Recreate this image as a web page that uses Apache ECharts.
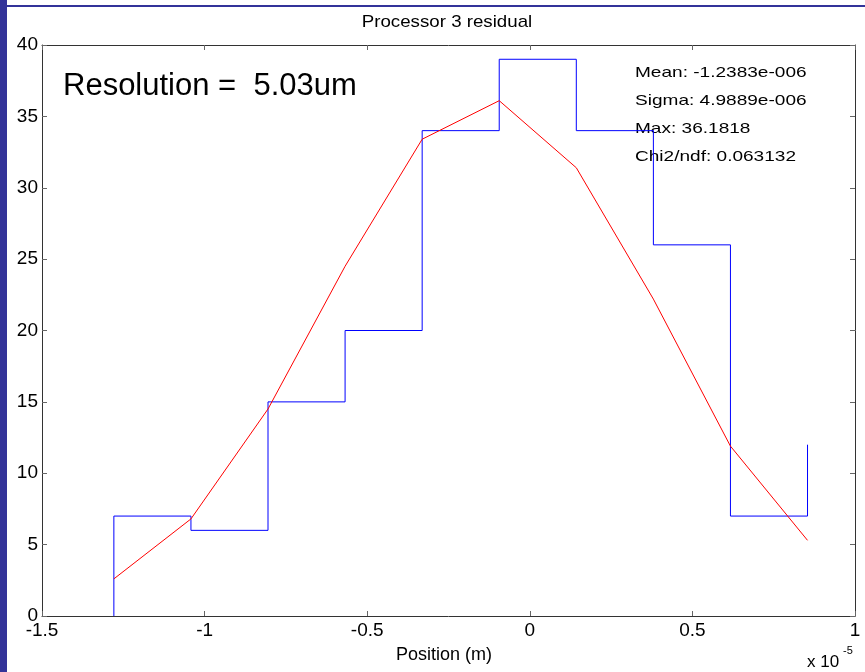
<!DOCTYPE html>
<html>
<head>
<meta charset="utf-8">
<script src="https://cdn.jsdelivr.net/npm/echarts@6/dist/echarts.min.js"></script>
<style>
  html, body { margin: 0; padding: 0; background: #fff; }
  #chart { width: 865px; height: 672px; }
</style>
</head>
<body>
<div id="chart"></div>
<script>
  // positions are in units of 1e-5 m
  var binEdges = [-1.279, -1.042, -0.805, -0.568, -0.331, -0.094, 0.143, 0.380, 0.617, 0.854];
  var counts   = [7, 6, 15, 20, 34, 39, 34, 26, 7, 12];
  var fitVals  = [2.6, 6.8, 14.5, 24.5, 33.4, 36.1, 31.4, 22.2, 11.9, 5.3];
  var xTicks   = [-1.5, -1, -0.5, 0, 0.5, 1];
  var stats    = ['Mean: -1.2383e-006', 'Sigma: 4.9889e-006', 'Max: 36.1818', 'Chi2/ndf: 0.063132'];

  var font = '"Liberation Sans", Arial, sans-serif';
  var chart = echarts.init(document.getElementById('chart'));

  // stairs start from zero at the first edge
  var stairData = [[binEdges[0], 0]];
  binEdges.forEach(function (x, i) { stairData.push([x, counts[i]]); });
  var fitData = binEdges.map(function (x, i) { return [x, fitVals[i]]; });

  var axisLine = { show: true, onZero: false, lineStyle: { color: '#333', width: 1 } };
  var tick = { show: true, inside: true, length: 5, lineStyle: { color: '#666' } };

  // text a bit stretched sideways, like the original export
  var statTexts = stats.map(function (s, i) {
    return {
      type: 'text', x: 635, y: 73 + i * 28, scaleX: 1.27,
      style: { text: s, font: '15px ' + font, fill: '#000', verticalAlign: 'middle' }
    };
  });

  chart.setOption({
    animation: false,
    backgroundColor: '#fff',
    grid: { left: 42, right: 10, top: 45, bottom: 56 },
    xAxis: [{
      type: 'value', min: -1.5, max: 1, interval: 0.5, position: 'bottom',
      axisLine: axisLine, axisTick: tick, splitLine: { show: false },
      axisLabel: {
        fontFamily: font, fontSize: 19, color: '#000', margin: 5,
        formatter: function (v) { return xTicks.indexOf(v) >= 0 ? String(v) : ''; }
      }
    }, {
      type: 'value', min: -1.5, max: 1, interval: 0.5, position: 'top',
      axisLine: axisLine, axisTick: tick, axisLabel: { show: false }, splitLine: { show: false }
    }],
    yAxis: [{
      type: 'value', min: 0, max: 40, interval: 5, position: 'left',
      axisLine: axisLine, axisTick: tick, splitLine: { show: false },
      axisLabel: { fontFamily: font, fontSize: 19, color: '#000', margin: 4 }
    }, {
      type: 'value', min: 0, max: 40, interval: 5, position: 'right',
      axisLine: axisLine, axisTick: tick, axisLabel: { show: false }, splitLine: { show: false }
    }],
    series: [{
      type: 'line', step: 'end', data: stairData, showSymbol: false,
      lineStyle: { color: '#0000ff', width: 1 }
    }, {
      type: 'line', data: fitData, showSymbol: false,
      lineStyle: { color: '#ff0000', width: 1 }
    }],
    graphic: [
      { type: 'rect', left: 0, top: 0, shape: { width: 7, height: 672 }, style: { fill: '#333399' } },
      { type: 'rect', left: 0, top: 5, shape: { width: 865, height: 2 }, style: { fill: '#333399' } },
      { type: 'text', x: 447, y: 22, scaleX: 1.1,
        style: { text: 'Processor 3 residual', font: '17px ' + font, fill: '#000', align: 'center', verticalAlign: 'middle' } },
      { type: 'text', x: 444, y: 655,
        style: { text: 'Position (m)', font: '18px ' + font, fill: '#000', align: 'center', verticalAlign: 'middle' } },
      { type: 'text', x: 63, y: 86,
        style: { text: 'Resolution =  5.03um', font: '31px ' + font, fill: '#000', verticalAlign: 'middle' } },
      { type: 'text', x: 807, y: 662,
        style: { text: 'x 10', font: '17px ' + font, fill: '#000', verticalAlign: 'middle' } },
      { type: 'text', x: 843, y: 651,
        style: { text: '-5', font: '11px ' + font, fill: '#000', verticalAlign: 'middle' } }
    ].concat(statTexts)
  });
</script>
</body>
</html>
